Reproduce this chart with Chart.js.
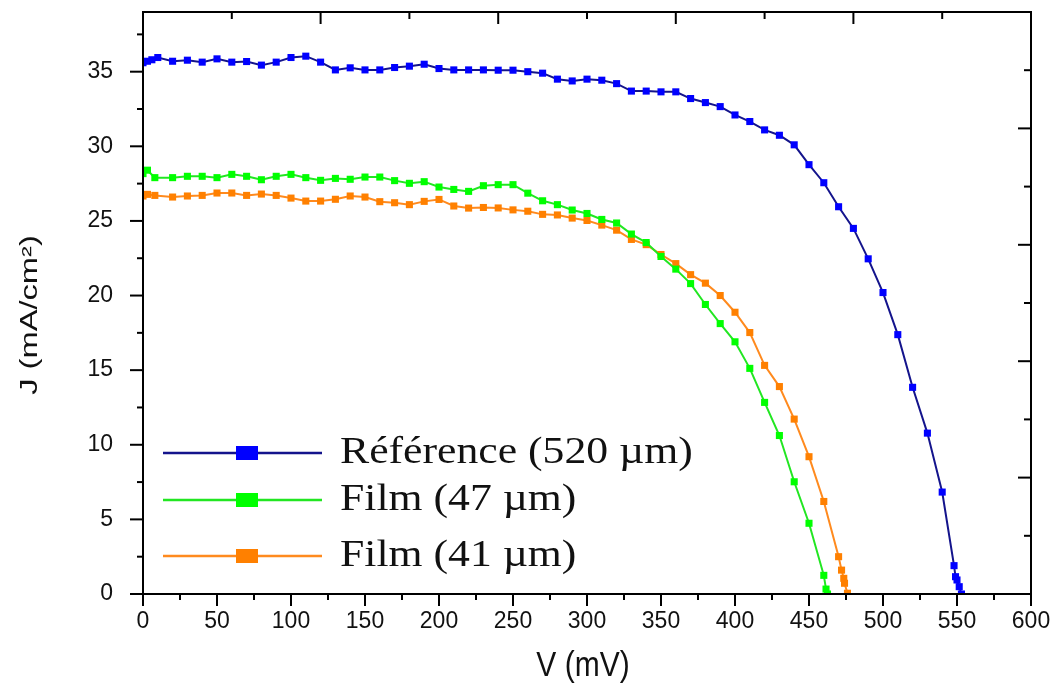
<!DOCTYPE html>
<html>
<head>
<meta charset="utf-8">
<script src="https://cdn.jsdelivr.net/npm/chart.js@4.4.1/dist/chart.umd.min.js"></script>
<style>
  html, body { margin: 0; padding: 0; background: #fff; }
  #wrap { width: 1056px; height: 686px; }
</style>
</head>
<body>
<div id="wrap"><canvas id="ivChart" width="1056" height="686"></canvas></div>
<script>
// V (mV) / J (mA/cm²)
const refV = [0, 3, 6, 10, 20, 30, 40, 50, 60, 70, 80, 90, 100, 110, 120, 130, 140, 150, 160, 170, 180, 190, 200,
  210, 220, 230, 240, 250, 260, 270, 280, 290, 300, 310, 320, 330, 340, 350, 360, 370, 380, 390, 400, 410, 420,
  430, 440, 450, 460, 470, 480, 490, 500, 510, 520, 530, 540, 548, 549, 550, 551.5, 553];
const refJ = [35.6, 35.7, 35.8, 35.95, 35.7, 35.77, 35.64, 35.86, 35.64, 35.68, 35.44, 35.64, 35.95, 36.04, 35.64,
  35.12, 35.26, 35.12, 35.12, 35.28, 35.37, 35.5, 35.21, 35.12, 35.12, 35.12, 35.1, 35.1, 35.0, 34.9, 34.5, 34.38,
  34.5, 34.43, 34.2, 33.7, 33.7, 33.65, 33.65, 33.2, 32.93, 32.66, 32.1, 31.66, 31.1, 30.74, 30.1, 28.77, 27.56,
  25.95, 24.5, 22.46, 20.2, 17.38, 13.85, 10.78, 6.83, 1.9, 1.16, 0.94, 0.49, 0];

const film47V = [0, 3, 8, 20, 30, 40, 50, 60, 70, 80, 90, 100, 110, 120, 130, 140, 150, 160, 170, 180, 190, 200,
  210, 220, 230, 240, 250, 260, 270, 280, 290, 300, 310, 320, 330, 340, 350, 360, 370, 380, 390, 400, 410, 420,
  430, 440, 450, 460, 461.5, 462.5];
const film47J = [28.17, 28.4, 27.9, 27.9, 27.99, 27.99, 27.9, 28.12, 27.99, 27.76, 27.99, 28.12, 27.9, 27.72, 27.85,
  27.79, 27.94, 27.94, 27.7, 27.52, 27.63, 27.27, 27.11, 26.98, 27.36, 27.43, 27.43, 26.86, 26.35, 26.09, 25.73,
  25.5, 25.1, 24.86, 24.12, 23.55, 22.62, 21.77, 20.8, 19.4, 18.12, 16.9, 15.12, 12.84, 10.62, 7.52, 4.74, 1.25,
  0.33, 0];

const film41V = [0, 3, 8, 20, 30, 40, 50, 60, 70, 80, 90, 100, 110, 120, 130, 140, 150, 160, 170, 180, 190, 200,
  210, 220, 230, 240, 250, 260, 270, 280, 290, 300, 310, 320, 330, 340, 350, 360, 370, 380, 390, 400, 410, 420,
  430, 440, 450, 460, 470, 472, 473.5, 474, 476];
const film41J = [26.67, 26.78, 26.71, 26.6, 26.67, 26.71, 26.87, 26.87, 26.71, 26.8, 26.71, 26.53, 26.33, 26.33,
  26.45, 26.67, 26.6, 26.29, 26.22, 26.09, 26.31, 26.44, 26.0, 25.86, 25.9, 25.87, 25.74, 25.65, 25.44, 25.4,
  25.19, 25.03, 24.72, 24.38, 23.76, 23.41, 22.75, 22.14, 21.4, 20.83, 20.0, 18.88, 17.52, 15.32, 13.9, 11.72,
  9.2, 6.2, 2.5, 1.6, 1.05, 0.72, 0.05];

const seriesLabels = ['Référence (520 µm)', 'Film (47 µm)', 'Film (41 µm)'];
const xTicks = [0, 50, 100, 150, 200, 250, 300, 350, 400, 450, 500, 550, 600];
const yTicks = [0, 5, 10, 15, 20, 25, 30, 35];
const xTitle = 'V (mV)';
const yTitle = 'J (mA/cm²)';

const toPoints = (xs, ys) => xs.map((x, i) => ({ x: x, y: ys[i] }));
const sansFamily = '"Liberation Sans", Arial, sans-serif';

// minor/major ticks on all four sides of the frame, plus axis titles
const frameTicks = {
  id: 'frameTicks',
  afterDraw(chart) {
    const { ctx, chartArea: a, scales } = chart;
    const w = a.right - a.left, h = a.bottom - a.top;
    ctx.save();
    ctx.strokeStyle = '#000';
    ctx.lineWidth = 2;
    const seg = (x1, y1, x2, y2) => { ctx.beginPath(); ctx.moveTo(x1, y1); ctx.lineTo(x2, y2); ctx.stroke(); };
    for (let v = 0; v <= 600; v += 25) {
      const x = scales.x.getPixelForValue(v);
      seg(x, a.bottom, x, a.bottom + (v % 50 === 0 ? 12 : 6));
    }
    for (let v = 0; v <= 37.5; v += 2.5) {
      const y = scales.y.getPixelForValue(v);
      seg(a.left, y, a.left - (v % 5 === 0 ? 13 : 6), y);
    }
    // top and right axes carry their own 10-step scale
    for (let k = 1; k < 10; k++) {
      const x = a.left + w * k / 10;
      seg(x, a.top, x, a.top + (k % 2 === 0 ? 12 : 7));
      const y = a.bottom - h * k / 10;
      seg(a.right, y, a.right - (k % 2 === 0 ? 13 : 7), y);
    }
    ctx.strokeRect(a.left, a.top, w, h);

    ctx.fillStyle = '#111';
    ctx.textAlign = 'center';
    ctx.textBaseline = 'middle';
    ctx.save();
    ctx.translate(a.left + w / 2 - 4, a.bottom + 72);
    ctx.scale(1, 1.15);
    ctx.font = '30px ' + sansFamily;
    ctx.fillText(xTitle, 0, 0);
    ctx.restore();
    ctx.save();
    ctx.translate(31, a.top + 303);
    ctx.rotate(-Math.PI / 2);
    ctx.scale(1.42, 1);
    ctx.font = '23px ' + sansFamily;
    ctx.fillText(yTitle, 0, 0);
    ctx.restore();
    ctx.restore();
  }
};

// legend drawn inside the plot, lower left
const insideLegend = {
  id: 'insideLegend',
  afterDraw(chart) {
    const { ctx, chartArea: a } = chart;
    const rows = [a.top + 441, a.top + 488, a.top + 544];
    ctx.save();
    chart.data.datasets.forEach((ds, i) => {
      const y = rows[i];
      ctx.strokeStyle = ds.borderColor;
      ctx.lineWidth = 2.5;
      ctx.beginPath();
      ctx.moveTo(a.left + 20, y);
      ctx.lineTo(a.left + 179, y);
      ctx.stroke();
      ctx.fillStyle = ds.pointBackgroundColor;
      ctx.fillRect(a.left + 93, y - 7, 22, 14);
      ctx.save();
      ctx.translate(a.left + 197, y);
      ctx.scale(1.15, 1);
      ctx.fillStyle = '#111';
      ctx.font = '38px "Liberation Serif", "DejaVu Serif", serif';
      ctx.textBaseline = 'middle';
      ctx.fillText(ds.label, 0, 0);
      ctx.restore();
    });
    ctx.restore();
  }
};

const noPad = s => { s.paddingTop = 0; s.paddingBottom = 0; s.paddingLeft = 0; s.paddingRight = 0; };

new Chart(document.getElementById('ivChart'), {
  type: 'line',
  data: {
    datasets: [
      {
        label: seriesLabels[0],
        data: toPoints(refV, refJ),
        borderColor: '#14148c',
        pointBackgroundColor: '#0000ff',
        pointBorderColor: '#0000ff'
      },
      {
        label: seriesLabels[1],
        data: toPoints(film47V, film47J),
        borderColor: '#22e622',
        pointBackgroundColor: '#00ff00',
        pointBorderColor: '#00ff00'
      },
      {
        label: seriesLabels[2],
        data: toPoints(film41V, film41J),
        borderColor: '#ff8a1e',
        pointBackgroundColor: '#ff8000',
        pointBorderColor: '#ff8000'
      }
    ].map(ds => Object.assign(ds, {
      borderWidth: 2,
      pointStyle: 'rect',
      pointRadius: 5,
      pointBorderWidth: 0,
      tension: 0,
      fill: false
    }))
  },
  options: {
    responsive: false,
    devicePixelRatio: 1,
    animation: false,
    layout: { padding: { top: 12, right: 25, left: 0, bottom: 0 } },
    plugins: {
      legend: { display: false },
      tooltip: { enabled: false }
    },
    scales: {
      x: {
        type: 'linear',
        min: 0,
        max: 600,
        afterBuildTicks: s => { s.ticks = xTicks.map(v => ({ value: v })); },
        afterFit: s => { s.height = 92; noPad(s); },
        grid: { display: false },
        border: { display: false },
        ticks: { color: '#111', font: { family: sansFamily, size: 23 }, padding: 6, maxRotation: 0 }
      },
      y: {
        type: 'linear',
        min: 0,
        max: 39,
        afterBuildTicks: s => { s.ticks = yTicks.map(v => ({ value: v })); },
        afterFit: s => { s.width = 143; noPad(s); },
        grid: { display: false },
        border: { display: false },
        ticks: { color: '#111', font: { family: sansFamily, size: 23 }, padding: 22 }
      }
    }
  },
  plugins: [frameTicks, insideLegend]
});
</script>
</body>
</html>
